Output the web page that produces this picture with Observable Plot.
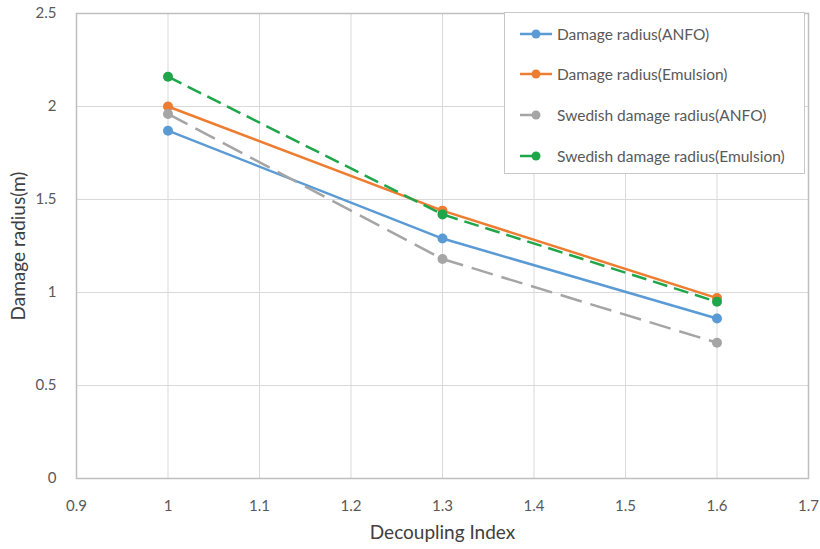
<!DOCTYPE html>
<html>
<head>
<meta charset="utf-8">
<script src="https://cdn.jsdelivr.net/npm/d3@7"></script>
<script src="https://cdn.jsdelivr.net/npm/@observablehq/plot@0.6"></script>
<style>
  html, body { margin: 0; padding: 0; background: #fff; }
  #wrap { position: relative; width: 820px; height: 549px; font-family: Lato, "Open Sans", sans-serif; }
  #legend { position: absolute; left: 504px; top: 12px; width: 301px; height: 162px; background: #fff; border: 1px solid #c8c8c8; box-sizing: border-box; }
  .item { position: absolute; left: 14px; display: flex; align-items: center; font-size: 15.5px; color: #595959; white-space: nowrap; }
  .item svg { margin-right: 4px; }
</style>
</head>
<body>
<div id="wrap"><div id="legend"></div></div>
<script>
const decoupling = [1.0, 1.3, 1.6];
const damageANFO = [1.87, 1.29, 0.86];
const damageEmulsion = [2.0, 1.44, 0.97];
const swedishANFO = [1.96, 1.18, 0.73];
const swedishEmulsion = [2.16, 1.42, 0.95];
const seriesNames = ["Damage radius(ANFO)", "Damage radius(Emulsion)", "Swedish damage radius(ANFO)", "Swedish damage radius(Emulsion)"];
const seriesColors = ["#5b9bd5", "#ed7d31", "#a5a5a5", "#1fa64a"];
const seriesDash = [null, null, "22,9", "15,7"];
const xTicks = [0.9, 1.0, 1.1, 1.2, 1.3, 1.4, 1.5, 1.6, 1.7];
const yTicks = [0, 0.5, 1, 1.5, 2, 2.5];

const fmt = d => String(+d.toFixed(1));
const seriesValues = [damageANFO, damageEmulsion, swedishANFO, swedishEmulsion];
const marks = [
  Plot.gridX(xTicks, {stroke: "#d9d9d9", strokeOpacity: 1}),
  Plot.gridY(yTicks, {stroke: "#d9d9d9", strokeOpacity: 1}),
  Plot.frame({stroke: "#bfbfbf", strokeWidth: 1.5}),
  Plot.axisX(xTicks, {tickSize: 0, tickPadding: 22, fontSize: 15, fill: "#595959", tickFormat: fmt, label: null}),
  Plot.axisY(yTicks, {tickSize: 0, tickPadding: 20, fontSize: 15, fill: "#595959", tickFormat: fmt, label: null}),
  Plot.text(["Decoupling Index"], {frameAnchor: "bottom", dy: 60, fontSize: 19, fill: "#404040"}),
  Plot.text(["Damage radius(m)"], {frameAnchor: "left", textAnchor: "middle", dx: -58, rotate: -90, fontSize: 19, fill: "#404040"})
];
seriesValues.forEach((vals, i) => {
  const data = decoupling.map((d, j) => ({x: d, y: vals[j]}));
  marks.push(Plot.line(data, {x: "x", y: "y", stroke: seriesColors[i], strokeWidth: 2.5, strokeDasharray: seriesDash[i], strokeLinecap: "butt"}));
});
seriesValues.forEach((vals, i) => {
  const data = decoupling.map((d, j) => ({x: d, y: vals[j]}));
  marks.push(Plot.dot(data, {x: "x", y: "y", r: 5, fill: seriesColors[i], stroke: "none"}));
});

const chart = Plot.plot({
  width: 820, height: 549,
  marginLeft: 76, marginRight: 12, marginTop: 13, marginBottom: 71,
  style: {fontFamily: "Lato, 'Open Sans', sans-serif", background: "#fff"},
  x: {domain: [0.9, 1.7]},
  y: {domain: [0, 2.5]},
  marks
});
const wrap = document.getElementById("wrap");
wrap.insertBefore(chart, wrap.firstChild);

const legend = document.getElementById("legend");
const rowTops = [12, 52, 93, 134];
seriesNames.forEach((name, i) => {
  const item = document.createElement("div");
  item.className = "item";
  item.style.top = rowTops[i] + "px";
  const dashed = seriesDash[i] !== null;
  item.innerHTML = `<svg width="34" height="16"><line x1="1" x2="${dashed ? 20 : 33}" y1="8" y2="8" stroke="${seriesColors[i]}" stroke-width="2.5"/><circle cx="17" cy="8" r="4.5" fill="${seriesColors[i]}"/></svg><span>${name}</span>`;
  legend.appendChild(item);
});
</script>
</body>
</html>
